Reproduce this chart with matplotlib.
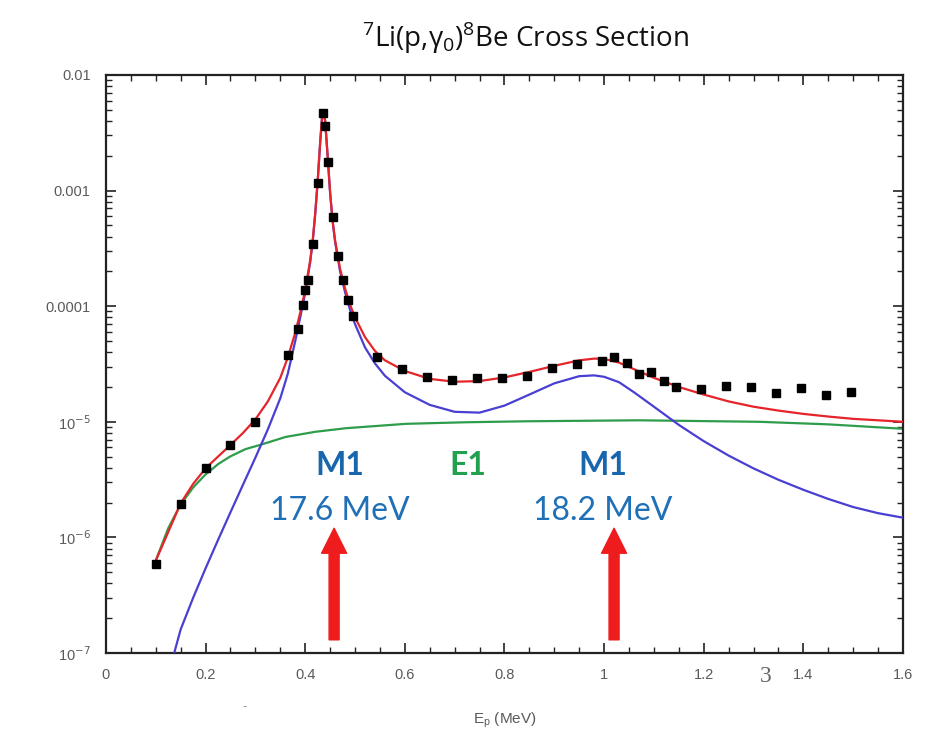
import matplotlib
matplotlib.use("Agg")
import matplotlib.pyplot as plt
from matplotlib.ticker import MultipleLocator, LogLocator, NullFormatter

# measured points (black squares)
data_x = [0.10, 0.15, 0.20, 0.25, 0.30, 0.365, 0.385, 0.395, 0.40, 0.405,
          0.415, 0.425, 0.435, 0.44, 0.445, 0.455, 0.465, 0.475, 0.485, 0.495,
          0.545, 0.595, 0.645, 0.695, 0.745, 0.795, 0.845, 0.895, 0.945, 0.995,
          1.02, 1.045, 1.07, 1.095, 1.12, 1.145, 1.195, 1.245, 1.295, 1.345,
          1.395, 1.445, 1.495]
data_y = [5.9e-7, 1.95e-6, 4.0e-6, 6.3e-6, 1.0e-5, 3.8e-5, 6.3e-5, 1.02e-4, 1.38e-4, 1.7e-4,
          3.45e-4, 1.16e-3, 4.7e-3, 3.6e-3, 1.78e-3, 5.9e-4, 2.7e-4, 1.7e-4, 1.13e-4, 8.2e-5,
          3.65e-5, 2.85e-5, 2.43e-5, 2.3e-5, 2.38e-5, 2.38e-5, 2.49e-5, 2.94e-5, 3.16e-5, 3.36e-5,
          3.66e-5, 3.2e-5, 2.59e-5, 2.7e-5, 2.24e-5, 2.01e-5, 1.93e-5, 2.04e-5, 1.99e-5, 1.77e-5,
          1.95e-5, 1.71e-5, 1.81e-5]

# total fit (red)
total_x = [0.098, 0.15, 0.175, 0.20, 0.225, 0.25, 0.275, 0.30, 0.325, 0.35,
           0.365, 0.38, 0.39, 0.40, 0.41, 0.415, 0.42, 0.425, 0.43, 0.434,
           0.437, 0.44, 0.445, 0.45, 0.455, 0.46, 0.47, 0.48, 0.49, 0.50,
           0.52, 0.54, 0.56, 0.60, 0.65, 0.70, 0.75, 0.80, 0.85, 0.90,
           0.95, 0.98, 1.00, 1.03, 1.06, 1.10, 1.15, 1.20, 1.25, 1.30,
           1.35, 1.40, 1.45, 1.50, 1.55, 1.60]
total_y = [6.0e-7, 1.97e-6, 2.9e-6, 3.96e-6, 5.0e-6, 6.3e-6, 8.0e-6, 1.05e-5, 1.5e-5, 2.4e-5,
           3.6e-5, 5.9e-5, 8.8e-5, 1.38e-4, 2.5e-4, 3.7e-4, 6.3e-4, 1.2e-3, 2.6e-3, 4.4e-3,
           4.7e-3, 4.0e-3, 2.0e-3, 9.6e-4, 5.5e-4, 3.7e-4, 2.1e-4, 1.42e-4, 1.03e-4, 8.0e-5,
           5.4e-5, 4.1e-5, 3.4e-5, 2.75e-5, 2.35e-5, 2.22e-5, 2.25e-5, 2.42e-5, 2.7e-5, 3.05e-5,
           3.4e-5, 3.52e-5, 3.5e-5, 3.25e-5, 2.85e-5, 2.4e-5, 2.0e-5, 1.72e-5, 1.5e-5, 1.35e-5,
           1.25e-5, 1.17e-5, 1.11e-5, 1.06e-5, 1.03e-5, 1.0e-5]

# M1 resonances (blue)
m1_x = [0.137, 0.15, 0.175, 0.20, 0.225, 0.25, 0.275, 0.30, 0.325, 0.35,
        0.365, 0.38, 0.39, 0.40, 0.41, 0.415, 0.42, 0.425, 0.43, 0.434,
        0.437, 0.44, 0.445, 0.45, 0.455, 0.46, 0.47, 0.48, 0.49, 0.50,
        0.52, 0.54, 0.56, 0.60, 0.65, 0.70, 0.75, 0.80, 0.85, 0.90,
        0.95, 0.98, 1.00, 1.03, 1.06, 1.10, 1.15, 1.20, 1.25, 1.30,
        1.35, 1.40, 1.45, 1.50, 1.55, 1.60]
m1_y = [1.0e-7, 1.6e-7, 3.0e-7, 5.4e-7, 9.5e-7, 1.65e-6, 2.85e-6, 4.9e-6, 8.6e-6, 1.6e-5,
        2.6e-5, 5.0e-5, 8.0e-5, 1.3e-4, 2.4e-4, 3.6e-4, 6.2e-4, 1.2e-3, 2.6e-3, 4.5e-3,
        4.8e-3, 4.0e-3, 2.0e-3, 9.5e-4, 5.4e-4, 3.6e-4, 2.0e-4, 1.32e-4, 9.3e-5, 7.0e-5,
        4.4e-5, 3.2e-5, 2.5e-5, 1.8e-5, 1.4e-5, 1.22e-5, 1.2e-5, 1.38e-5, 1.72e-5, 2.15e-5,
        2.48e-5, 2.52e-5, 2.45e-5, 2.2e-5, 1.8e-5, 1.35e-5, 9.4e-6, 6.8e-6, 5.1e-6, 3.95e-6,
        3.15e-6, 2.58e-6, 2.15e-6, 1.83e-6, 1.62e-6, 1.48e-6]

# E1 direct capture (green)
e1_x = [0.098, 0.125, 0.149, 0.175, 0.199, 0.225, 0.249, 0.28, 0.309, 0.361,
        0.421, 0.482, 0.602, 0.72, 0.843, 1.07, 1.311, 1.45, 1.60]
e1_y = [6.0e-7, 1.2e-6, 1.9e-6, 2.7e-6, 3.47e-6, 4.3e-6, 5.0e-6, 5.8e-6, 6.3e-6, 7.4e-6,
        8.2e-6, 8.8e-6, 9.6e-6, 9.9e-6, 1.01e-5, 1.03e-5, 1.0e-5, 9.5e-6, 8.7e-6]

y_ticks = [1e-7, 1e-6, 1e-5, 1e-4, 1e-3, 1e-2]
y_tick_labels = ["10$^{-7}$", "10$^{-6}$", "10$^{-5}$", "0.0001", "0.001", "0.01"]

# level labels and arrows
level_x = [0.470, 0.998]
level_names = ["M1", "M1"]
level_energy = ["17.6 MeV", "18.2 MeV"]
arrow_x = [0.458, 1.020]

RED = "#e5252a"
BLUE = "#4a3fd2"
GREEN = "#2e9d4b"
TXT_BLUE = "#1f70b6"
TICK_GRAY = "#5a5a5a"

fig = plt.figure(figsize=(9.27, 7.38), dpi=100)
ax = fig.add_axes([0.1143, 0.1152, 0.8598, 0.7832])

ax.plot(e1_x, e1_y, color=GREEN, lw=1.6, zorder=2)
ax.plot(m1_x, m1_y, color=BLUE, lw=1.6, zorder=3)
ax.plot(total_x, total_y, color=RED, lw=1.6, zorder=4)
ax.plot(data_x, data_y, "s", color="black", ms=5.5, zorder=5)

ax.set_yscale("log")
ax.set_xlim(0, 1.6)
ax.set_ylim(1e-7, 1e-2)

ax.xaxis.set_minor_locator(MultipleLocator(0.05))
ax.set_xticks([0, 0.2, 0.4, 0.6, 0.8, 1.0, 1.2, 1.4, 1.6])
ax.set_xticklabels(["0", "0.2", "0.4", "0.6", "0.8", "1", "1.2", "1.4", "1.6"])
ax.set_yticks(y_ticks)
ax.set_yticklabels(y_tick_labels)
ax.yaxis.set_minor_locator(LogLocator(base=10, subs=range(2, 10), numticks=20))
ax.yaxis.set_minor_formatter(NullFormatter())

ax.tick_params(which="both", direction="in", top=True, right=True,
               colors="#222222", labelcolor=TICK_GRAY, labelsize=10.5)
ax.tick_params(which="major", length=7, width=1.2, pad=11)
ax.tick_params(which="minor", length=4, width=1.0)
for lab in ax.get_xticklabels() + ax.get_yticklabels():
    lab.set_fontfamily("Liberation Sans")
for s in ax.spines.values():
    s.set_linewidth(1.6)
    s.set_color("#222222")

ax.set_xlabel("E$_{\\mathregular{p}}$ (MeV)", fontsize=11, color=TICK_GRAY,
              family="Liberation Sans", labelpad=20)

fig.text(0.567, 0.948, "$^{\\mathregular{7}}$Li(p,γ$_{\\mathregular{0}}$)$^{\\mathregular{8}}$Be Cross Section",
         ha="center", va="center", fontsize=20, family="Open Sans", color="#111111")

for x, name, en in zip(level_x, level_names, level_energy):
    ax.text(x, 4.2e-6, name, ha="center", va="center", fontsize=23,
            fontweight="bold", family="Lato", color="#1866ae")
    ax.text(x, 1.68e-6, en, ha="center", va="center", fontsize=23,
            family="Lato", color=TXT_BLUE)
ax.text(0.727, 4.2e-6, "E1", ha="center", va="center", fontsize=23,
        fontweight="bold", family="Lato", color="#22a050")

for x in arrow_x:
    ax.annotate("", xy=(x, 1.2e-6), xytext=(x, 1.3e-7),
                arrowprops=dict(arrowstyle="simple,head_length=1.8,head_width=1.8,tail_width=0.72",
                                color="#ee1c1c", mutation_scale=10, shrinkA=0, shrinkB=0))

# stray marks present in the source image
fig.text(0.826, 0.083, "3", ha="center", va="center", fontsize=17,
         family="Liberation Serif", color="#666666")
fig.text(0.264, 0.042, "-", ha="center", va="center", fontsize=9, color="#999999")

fig.savefig("out.png", dpi=100)
